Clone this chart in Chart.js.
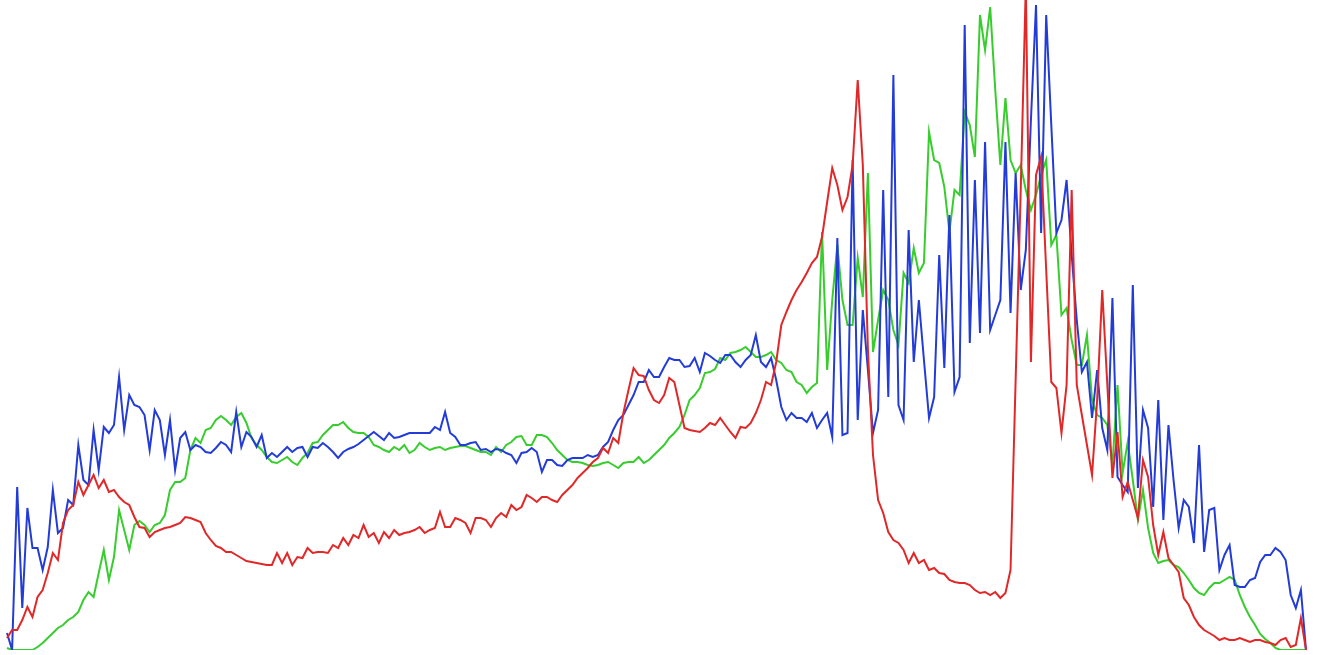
<!DOCTYPE html>
<html>
<head>
<meta charset="utf-8">
<script src="https://cdn.jsdelivr.net/npm/chart.js@4/dist/chart.umd.min.js"></script>
<style>
html,body{margin:0;padding:0;background:#fff;overflow:hidden;}
#wrap{width:1318px;height:655px;}
</style>
</head>
<body>
<div id="wrap"><canvas id="c" width="1318" height="655"></canvas></div>
<script>
const bins = Array.from({length: 256}, (_, i) => String(i));

const redValues = [12,20,20,30,43,33,53,60,77,97,90,127,140,145,168,155,165,175,162,170,158,160,153,148,145,133,123,122,113,118,120,122,123,125,127,133,132,130,128,117,110,104,102,98,98,95,92,89,88,87,86,85,85,97,87,97,85,93,92,102,97,98,98,97,105,102,112,105,115,112,125,113,117,107,118,112,120,115,117,118,120,123,117,120,122,138,123,123,132,130,127,117,132,132,130,123,132,137,133,145,140,143,155,152,148,153,153,150,148,155,160,165,172,177,182,188,192,202,197,212,207,237,260,282,275,274,260,250,247,255,272,268,245,222,220,219,218,222,227,225,232,225,218,212,223,222,227,237,250,268,265,288,325,338,350,360,368,377,387,393,413,448,482,465,440,453,485,570,485,300,195,150,137,118,110,107,100,87,97,87,90,80,82,77,76,70,68,67,67,65,60,57,58,55,58,52,57,80,270,460,665,288,475,493,380,268,262,217,265,460,265,235,205,175,250,360,265,172,218,153,168,150,132,190,173,125,95,118,92,85,78,52,45,33,25,20,17,14,10,12,10,10,12,10,8,10,10,8,7,5,10,12,3,5,32,0];

const greenValues = [2,0,0,0,0,0,3,7,12,17,22,25,30,33,38,50,58,53,77,100,70,93,140,120,100,125,129,125,118,125,127,135,160,168,168,172,200,212,207,220,222,230,234,230,225,233,237,227,212,205,200,193,188,187,190,193,188,185,192,197,207,208,215,220,225,225,228,222,218,217,217,213,205,203,200,198,203,200,205,197,200,207,203,200,202,203,200,202,203,204,204,202,200,198,198,195,203,198,205,208,213,214,205,205,215,215,213,207,200,195,190,188,188,187,185,184,185,187,188,185,182,187,188,188,193,187,190,195,200,205,212,217,223,235,250,255,262,277,278,281,292,290,297,298,300,303,298,293,293,295,298,290,287,280,278,268,265,257,263,267,418,280,350,405,350,325,325,392,353,477,298,330,360,350,320,305,377,367,402,377,387,518,490,487,463,418,460,455,538,525,493,635,600,643,560,485,552,490,477,485,460,440,455,475,490,405,415,335,342,310,285,285,315,250,235,232,225,185,265,177,208,170,130,160,122,97,87,89,90,85,83,77,70,62,57,55,62,67,67,70,73,70,55,43,33,25,16,11,7,2,0,0,0,0,0,0];

const blueValues = [17,0,163,42,142,102,102,80,103,160,117,122,150,145,205,170,165,220,180,223,217,225,273,220,255,245,243,235,200,240,230,195,230,180,212,218,200,205,203,198,197,202,208,205,198,238,203,218,213,203,215,192,197,193,198,203,198,202,203,193,203,202,207,203,198,192,198,201,203,206,210,214,218,214,210,217,212,213,215,217,217,217,217,217,223,220,238,217,213,205,205,207,208,200,201,198,201,200,197,195,187,197,198,202,198,178,190,190,185,184,190,192,192,192,195,193,195,203,208,220,230,235,245,255,268,268,280,273,273,283,292,290,290,283,284,292,278,297,294,290,287,295,295,288,283,290,295,315,288,283,292,270,243,230,237,232,232,228,237,222,230,237,213,412,215,217,490,230,340,280,217,240,460,253,575,245,230,420,288,350,290,232,253,395,282,435,258,273,625,307,470,317,508,320,335,350,508,337,477,360,400,530,645,417,635,525,417,430,470,395,330,278,288,232,280,222,200,352,173,165,158,365,162,240,222,143,250,130,225,170,122,150,143,107,205,98,140,142,80,95,105,65,63,63,70,72,88,95,95,102,98,90,55,42,60,0];

const ctx = document.getElementById('c').getContext('2d');
new Chart(ctx, {
  type: 'line',
  data: {
    labels: bins,
    datasets: [
      {label: 'R', data: redValues, borderColor: 'rgb(225,40,40)', borderWidth: 2, pointRadius: 0, tension: 0, fill: false},
      {label: 'B', data: blueValues, borderColor: 'rgb(35,60,215)', borderWidth: 2, pointRadius: 0, tension: 0, fill: false},
      {label: 'G', data: greenValues, borderColor: 'rgb(55,205,45)', borderWidth: 2, pointRadius: 0, tension: 0, fill: false}
    ]
  },
  options: {
    responsive: false,
    devicePixelRatio: 1,
    animation: false,
    layout: {padding: {left: 7, right: 12, top: 0, bottom: 5}},
    plugins: {legend: {display: false}, tooltip: {enabled: false}, title: {display: false}},
    scales: {
      x: {display: false, offset: false},
      y: {display: false, min: 0, max: 650}
    }
  }
});
</script>
</body>
</html>
